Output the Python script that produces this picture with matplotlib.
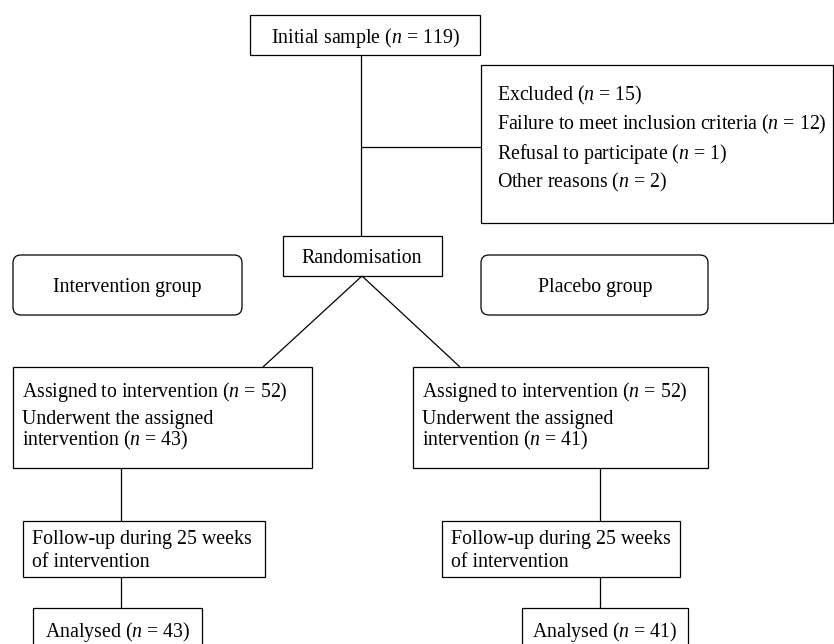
import matplotlib
matplotlib.use("Agg")
import matplotlib.pyplot as plt
from matplotlib.patches import Rectangle, FancyBboxPatch

plt.rcParams['font.family'] = ['Liberation Serif', 'DejaVu Serif']
plt.rcParams['mathtext.fontset'] = 'custom'
plt.rcParams['mathtext.it'] = 'Liberation Serif:italic'
plt.rcParams['mathtext.rm'] = 'Liberation Serif'

# ---- data ----
initial_n = 119
excluded_n = 15
exclusion_reasons = ["Failure to meet inclusion criteria", "Refusal to participate", "Other reasons"]
exclusion_counts = [12, 1, 2]
groups = ["Intervention group", "Placebo group"]
assigned_n = [52, 52]
underwent_n = [43, 41]
followup_weeks = 25
analysed_n = [43, 41]

def nlab(v):
    return r"($\mathit{n}$ = %d)" % v

W, H = 834, 644
fig = plt.figure(figsize=(W / 100, H / 100), dpi=100)
ax = fig.add_axes([0, 0, 1, 1])
ax.set_xlim(0, W)
ax.set_ylim(H, 0)
ax.axis('off')

LW = 0.9
FS = 14.3
DY = 2.5

def box(x0, y0, x1, y1, rounded=False):
    if rounded:
        p = FancyBboxPatch((x0, y0), x1 - x0, y1 - y0,
                           boxstyle="round,pad=0,rounding_size=8",
                           fill=False, lw=LW, ec='black')
    else:
        p = Rectangle((x0, y0), x1 - x0, y1 - y0, fill=False, lw=LW, ec='black')
    ax.add_patch(p)

def line(xs, ys):
    ax.plot(xs, ys, color='black', lw=LW, solid_capstyle='butt')

def txt(x, y, s, ha='left'):
    ax.text(x, y + DY, s, ha=ha, va='center', fontsize=FS, color='black')

# Initial sample
box(250, 15, 480, 55)
txt(365, 35, "Initial sample " + nlab(initial_n), ha='center')
line([361, 361], [55, 236])
line([361, 481], [147, 147])

# Excluded
box(481, 65, 833, 223)
ex_lines = ["Excluded " + nlab(excluded_n)] + [r + " " + nlab(c) for r, c in zip(exclusion_reasons, exclusion_counts)]
for i, s in enumerate(ex_lines):
    txt(497, 93 + i * 29, s)

# Randomisation
box(283, 236, 442, 276)
txt(362, 256, "Randomisation", ha='center')
line([362, 263], [276, 367])
line([362, 460], [276, 367])

# Group labels
box(13, 255, 242, 315, rounded=True)
txt(127, 285, groups[0], ha='center')
box(481, 255, 708, 315, rounded=True)
txt(595, 285, groups[1], ha='center')

# Assigned boxes
assign_x = [(13, 312), (413, 708)]
follow_x = [(23, 265), (442, 680)]
anal_x = [(33, 202), (522, 688)]
vline_x = [121, 600]
for k in range(2):
    x0, x1 = assign_x[k]
    box(x0, 367, x1, 468)
    txt(x0 + 9, 389, "Assigned to intervention " + nlab(assigned_n[k]))
    txt(x0 + 9, 417, "Underwent the assigned")
    txt(x0 + 9, 438, "intervention " + nlab(underwent_n[k]))
    line([vline_x[k], vline_x[k]], [468, 521])
    fx0, fx1 = follow_x[k]
    box(fx0, 521, fx1, 577)
    txt(fx0 + 9, 537, "Follow-up during %d weeks" % followup_weeks)
    txt(fx0 + 9, 560, "of intervention")
    line([vline_x[k], vline_x[k]], [577, 608])
    ax0, ax1 = anal_x[k]
    box(ax0, 608, ax1, 660)
    txt((ax0 + ax1) / 2, 629, "Analysed " + nlab(analysed_n[k]), ha='center')

fig.savefig("out.png", dpi=100)
